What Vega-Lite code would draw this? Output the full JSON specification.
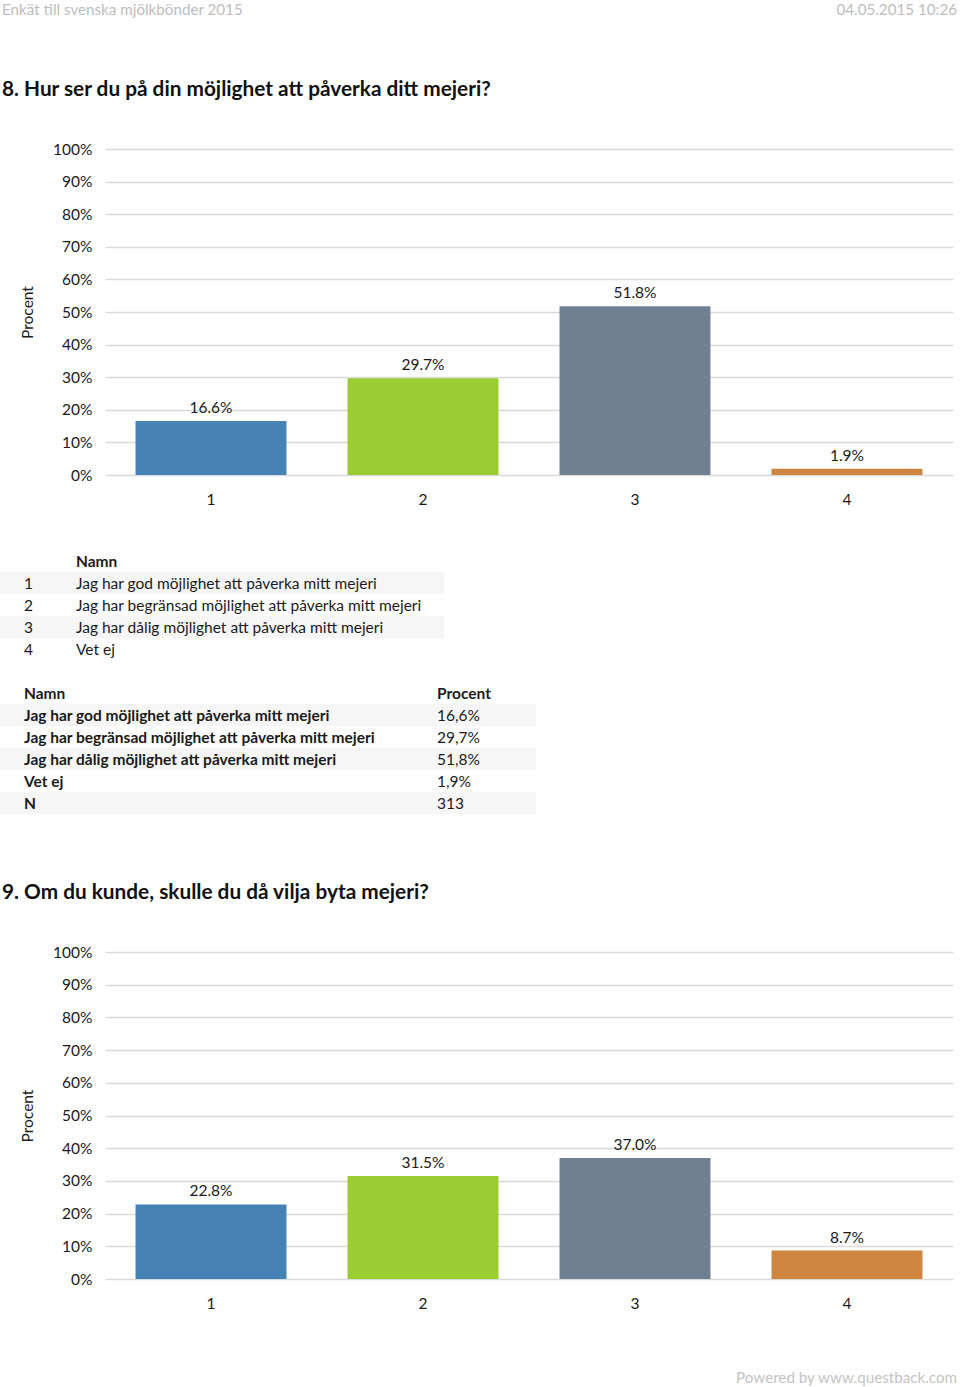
{
  "$schema": "https://vega.github.io/schema/vega-lite/v6.json",
  "padding": 0,
  "spacing": 0,
  "bounds": "flush",
  "autosize": {"type": "pad"},
  "background": "white",
  "config": {
    "view": {"stroke": null},
    "font": "Lato",
    "text": {"font": "Lato", "fontSize": 15.5, "color": "#1a1a1a"},
    "axis": {"labelFont": "Lato", "titleFont": "Lato", "labelFontSize": 15.5, "labelColor": "#1a1a1a", "titleColor": "#1a1a1a"}
  },
  "datasets": {
    "q8": [
      {"alt": "1", "pct": 0.166},
      {"alt": "2", "pct": 0.297},
      {"alt": "3", "pct": 0.518},
      {"alt": "4", "pct": 0.019}
    ],
    "q9": [
      {"alt": "1", "pct": 0.228},
      {"alt": "2", "pct": 0.315},
      {"alt": "3", "pct": 0.370},
      {"alt": "4", "pct": 0.087}
    ],
    "t1": [
      {"row": "0", "kind": "head", "num": "", "name": "Namn"},
      {"row": "1", "kind": "body", "num": "1", "name": "Jag har god möjlighet att påverka mitt mejeri"},
      {"row": "2", "kind": "body", "num": "2", "name": "Jag har begränsad möjlighet att påverka mitt mejeri"},
      {"row": "3", "kind": "body", "num": "3", "name": "Jag har dålig möjlighet att påverka mitt mejeri"},
      {"row": "4", "kind": "body", "num": "4", "name": "Vet ej"}
    ],
    "t2": [
      {"row": "0", "kind": "head", "name": "Namn", "value": "Procent"},
      {"row": "1", "kind": "body", "name": "Jag har god möjlighet att påverka mitt mejeri", "value": "16,6%"},
      {"row": "2", "kind": "body", "name": "Jag har begränsad möjlighet att påverka mitt mejeri", "value": "29,7%"},
      {"row": "3", "kind": "body", "name": "Jag har dålig möjlighet att påverka mitt mejeri", "value": "51,8%"},
      {"row": "4", "kind": "body", "name": "Vet ej", "value": "1,9%"},
      {"row": "5", "kind": "body", "name": "N", "value": "313"}
    ]
  },
  "vconcat": [
    {
      "width": 960,
      "height": 18,
      "data": {"values": [
        {"side": "left", "t": "Enkät till svenska mjölkbönder 2015"},
        {"side": "right", "t": "04.05.2015 10:26"}
      ]},
      "encoding": {
        "x": {"field": "side", "type": "nominal", "scale": {"type": "point", "domain": ["left", "right"], "range": [2, 957], "padding": 0}, "axis": null},
        "text": {"field": "t"}
      },
      "layer": [
        {"transform": [{"filter": "datum.side === 'left'"}], "mark": {"type": "text", "align": "left", "fontSize": 15.2, "color": "#bdbdbd", "dy": 1}},
        {"transform": [{"filter": "datum.side === 'right'"}], "mark": {"type": "text", "align": "right", "fontSize": 15.2, "color": "#bdbdbd", "dy": 1}}
      ]
    },
    {
      "width": 960,
      "height": 131,
      "data": {"values": [{"side": "left", "t": "8. Hur ser du på din möjlighet att påverka ditt mejeri?"}]},
      "mark": {"type": "text", "align": "left", "fontSize": 20.8, "fontWeight": "bold", "color": "#111111", "dy": 6.5},
      "encoding": {
        "x": {"field": "side", "type": "nominal", "scale": {"type": "point", "domain": ["left", "right"], "range": [2, 957], "padding": 0}, "axis": null},
        "text": {"field": "t"}
      }
    },
    {
      "width": 960,
      "height": 326,
      "data": {"name": "q8"},
      "encoding": {
        "x": {"field": "alt", "type": "nominal", "scale": {"range": [105, 953], "paddingInner": 0.288, "paddingOuter": 0.144},
              "axis": {"title": null, "labelAngle": 0, "domain": false, "ticks": false, "grid": false, "labelPadding": 17}},
        "y": {"field": "pct", "type": "quantitative", "scale": {"domain": [0, 1]},
              "axis": {"format": ".0%", "values": [0, 0.1, 0.2, 0.3, 0.4, 0.5, 0.6, 0.7, 0.8, 0.9, 1], "title": "Procent", "offset": -105,
                       "domain": false, "ticks": false, "labelPadding": 13, "gridColor": "#d9d9d9", "gridWidth": 1.5,
                       "titleX": -70, "titleFontWeight": "normal", "titleFontSize": 15.5}}
      },
      "layer": [
        {"mark": {"type": "bar"}, "encoding": {"color": {"field": "alt", "type": "nominal", "scale": {"domain": ["1", "2", "3", "4"], "range": ["steelblue", "yellowgreen", "slategray", "peru"]}, "legend": null}}},
        {"mark": {"type": "text", "baseline": "bottom", "dy": -5, "fontSize": 15.5}, "encoding": {"text": {"field": "pct", "type": "quantitative", "format": ".1%"}}}
      ]
    },
    {
      "width": 444,
      "height": 207,
      "data": {"name": "t1"},
      "encoding": {
        "y": {"field": "row", "type": "ordinal", "scale": {"type": "band", "domain": ["0", "1", "2", "3", "4"], "range": [75, 185], "paddingInner": 0, "paddingOuter": 0}, "axis": null}
      },
      "layer": [
        {"transform": [{"filter": "datum.row === '1' || datum.row === '3'"}], "mark": {"type": "rect", "color": "#f6f6f6"}},
        {"transform": [{"filter": "datum.kind === 'body'"}], "mark": {"type": "text", "align": "left", "dy": 1},
         "encoding": {"x": {"datum": "num", "type": "nominal", "scale": {"type": "point", "domain": ["num", "name"], "range": [24, 76], "padding": 0}, "axis": null}, "text": {"field": "num"}}},
        {"transform": [{"filter": "datum.kind === 'body'"}], "mark": {"type": "text", "align": "left", "dy": 1},
         "encoding": {"x": {"datum": "name", "type": "nominal"}, "text": {"field": "name"}}},
        {"transform": [{"filter": "datum.kind === 'head'"}], "mark": {"type": "text", "align": "left", "fontWeight": "bold", "dy": 1},
         "encoding": {"x": {"datum": "name", "type": "nominal"}, "text": {"field": "name"}}}
      ]
    },
    {
      "width": 536,
      "height": 132,
      "data": {"name": "t2"},
      "encoding": {
        "y": {"field": "row", "type": "ordinal", "scale": {"type": "band", "domain": ["0", "1", "2", "3", "4", "5"], "range": [0, 132], "paddingInner": 0, "paddingOuter": 0}, "axis": null}
      },
      "layer": [
        {"transform": [{"filter": "datum.row === '1' || datum.row === '3' || datum.row === '5'"}], "mark": {"type": "rect", "color": "#f6f6f6"}},
        {"mark": {"type": "text", "align": "left", "fontWeight": "bold", "dy": 1},
         "encoding": {"x": {"datum": "name", "type": "nominal", "scale": {"type": "point", "domain": ["name", "value"], "range": [24, 437], "padding": 0}, "axis": null}, "text": {"field": "name"}}},
        {"transform": [{"filter": "datum.kind === 'head'"}], "mark": {"type": "text", "align": "left", "fontWeight": "bold", "dy": 1},
         "encoding": {"x": {"datum": "value", "type": "nominal"}, "text": {"field": "value"}}},
        {"transform": [{"filter": "datum.kind === 'body'"}], "mark": {"type": "text", "align": "left", "dy": 1},
         "encoding": {"x": {"datum": "value", "type": "nominal"}, "text": {"field": "value"}}}
      ]
    },
    {
      "width": 960,
      "height": 138,
      "data": {"values": [{"side": "left", "t": "9. Om du kunde, skulle du då vilja byta mejeri?"}]},
      "mark": {"type": "text", "align": "left", "fontSize": 20.8, "fontWeight": "bold", "color": "#111111", "dy": 10},
      "encoding": {
        "x": {"field": "side", "type": "nominal", "scale": {"type": "point", "domain": ["left", "right"], "range": [2, 957], "padding": 0}, "axis": null},
        "text": {"field": "t"}
      }
    },
    {
      "width": 960,
      "height": 327,
      "data": {"name": "q9"},
      "encoding": {
        "x": {"field": "alt", "type": "nominal", "scale": {"range": [105, 953], "paddingInner": 0.288, "paddingOuter": 0.144},
              "axis": {"title": null, "labelAngle": 0, "domain": false, "ticks": false, "grid": false, "labelPadding": 17}},
        "y": {"field": "pct", "type": "quantitative", "scale": {"domain": [0, 1]},
              "axis": {"format": ".0%", "values": [0, 0.1, 0.2, 0.3, 0.4, 0.5, 0.6, 0.7, 0.8, 0.9, 1], "title": "Procent", "offset": -105,
                       "domain": false, "ticks": false, "labelPadding": 13, "gridColor": "#d9d9d9", "gridWidth": 1.5,
                       "titleX": -70, "titleFontWeight": "normal", "titleFontSize": 15.5}}
      },
      "layer": [
        {"mark": {"type": "bar"}, "encoding": {"color": {"field": "alt", "type": "nominal", "scale": {"domain": ["1", "2", "3", "4"], "range": ["steelblue", "yellowgreen", "slategray", "peru"]}, "legend": null}}},
        {"mark": {"type": "text", "baseline": "bottom", "dy": -5, "fontSize": 15.5}, "encoding": {"text": {"field": "pct", "type": "quantitative", "format": ".1%"}}}
      ]
    },
    {
      "width": 960,
      "height": 108,
      "data": {"values": [{"side": "right", "t": "Powered by www.questback.com"}]},
      "mark": {"type": "text", "align": "right", "fontSize": 15.2, "color": "#c4c4c4", "dy": 45},
      "encoding": {
        "x": {"field": "side", "type": "nominal", "scale": {"type": "point", "domain": ["left", "right"], "range": [2, 957], "padding": 0}, "axis": null},
        "text": {"field": "t"}
      }
    }
  ]
}
